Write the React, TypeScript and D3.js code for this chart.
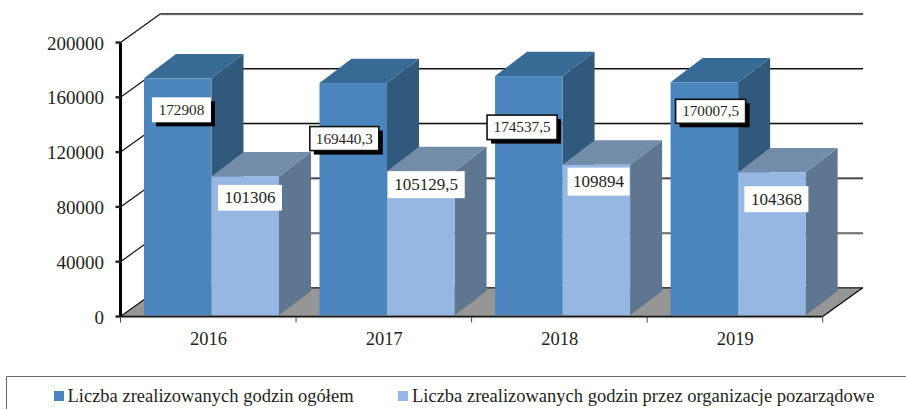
import React from "react";
import * as d3 from "d3";

const categories = ["2016", "2017", "2018", "2019"];
const totalHours = [172908, 169440.3, 174537.5, 170007.5];
const ngoHours = [101306, 105129.5, 109894, 104368];
const totalLabels = ["172908", "169440,3", "174537,5", "170007,5"];
const ngoLabels = ["101306", "105129,5", "109894", "104368"];
const yTicks = [0, 40000, 80000, 120000, 160000, 200000];
const seriesNames = [
  "Liczba zrealizowanych godzin ogółem",
  "Liczba zrealizowanych godzin przez organizacje pozarządowe",
];

// label box placement, relative to the front top-left corner of the bar: dx, dy, w, h, framed
const totalBoxes = [
  [8, 19, 59, 25, false],
  [-9.7, 43.5, 69, 24, true],
  [-8, 39, 70, 24.5, true],
  [5, 17, 70, 24, true],
] as const;
const ngoBoxes = [
  [6.5, 8.5, 64, 25.7],
  [0.7, 0, 77, 27],
  [5, 3, 62, 28],
  [6.3, 14, 64, 26],
] as const;

const FONT = "'Liberation Serif', serif";
const TXT = "#231f20";
const DX = 40;
const DY = 28.7;
const BAR_DX = 32;
const BAR_DY = 24.3;

const left = 120.5;
const right = 822.7;
const y = d3.scaleLinear().domain([0, 200000]).range([316.5, 42.5]);
const barY = d3.scaleLinear().domain([0, 200000]).range([315.2, 41.2]);
const x0 = d3.scaleBand<string>().domain(categories).range([left, right]);
const seriesBand = d3
  .scaleBand<number>()
  .domain([0, 1])
  .range([0, x0.bandwidth()])
  .paddingInner(0)
  .paddingOuter(0.3);
const barShift = 3.2;

const poly = (pts: number[][]) => d3.line()(pts as [number, number][]) + "Z";

function Bar({ x, w, v, front, top, side }: { x: number; w: number; v: number; front: string; top: string; side: string }) {
  const y1 = barY(v);
  const y0 = barY(0);
  return (
    <g>
      <path d={poly([[x + w, y1], [x + w + BAR_DX, y1 - BAR_DY], [x + w + BAR_DX, y0 - BAR_DY], [x + w, y0]])} fill={side} />
      <path d={poly([[x, y1], [x + BAR_DX, y1 - BAR_DY], [x + w + BAR_DX, y1 - BAR_DY], [x + w, y1]])} fill={top} />
      <rect x={x} y={y1} width={w} height={y0 - y1} fill={front} />
    </g>
  );
}

function Label({ x, y: yy, w, h, text, shadow, framed, size }: { x: number; y: number; w: number; h: number; text: string; shadow: boolean; framed: boolean; size: number }) {
  return (
    <g>
      {shadow && <rect x={x + 4} y={yy + 4} width={w} height={h} fill="#000" />}
      <rect x={x} y={yy} width={w} height={h} fill="#fff" stroke={framed ? "#111" : "none"} strokeWidth={framed ? 1.6 : 0} />
      <text x={x + w / 2} y={yy + h / 2 + size * 0.33} textAnchor="middle" fontFamily={FONT} fontSize={size} fill={TXT}>
        {text}
      </text>
    </g>
  );
}

export default function App() {
  const gridTicks = yTicks;
  return (
    <svg width={906} height={409} style={{ position: "absolute", left: 0, top: 0, background: "#fff" }}>
      {/* floor */}
      <path
        d={poly([[left, y(0)], [left + DX, y(0) - DY], [right + DX, y(0) - DY], [right, y(0)]])}
        fill="#969696"
      />
      {/* back wall gridlines and side wall diagonals */}
      {gridTicks.map((t) => (
        <g key={t}>
          <line x1={left + DX} x2={right + DX + 0.3} y1={y(t) - DY} y2={y(t) - DY} stroke="#aaa" strokeWidth={1} transform="translate(0,1)" />
          <line x1={left + DX} x2={right + DX + 0.3} y1={y(t) - DY} y2={y(t) - DY} stroke="#111" strokeWidth={1.2} />
          <line x1={left} x2={left + DX} y1={y(t)} y2={y(t) - DY} stroke="#111" strokeWidth={1.2} />
        </g>
      ))}
      <line x1={right} x2={right + DX} y1={y(0)} y2={y(0) - DY} stroke="#111" strokeWidth={1.4} />

      {/* bars */}
      {categories.map((c, i) => {
        const bx = (x0(c) as number) + barShift;
        const w = seriesBand.bandwidth();
        return (
          <g key={c}>
            <Bar x={bx + (seriesBand(0) as number)} w={w} v={totalHours[i]} front="#4a86bd" top="#376a94" side="#30597b" />
            <Bar x={bx + (seriesBand(1) as number)} w={w} v={ngoHours[i]} front="#95b7e1" top="#728ca9" side="#5f7690" />
          </g>
        );
      })}

      {/* axes */}
      <line x1={left} x2={right} y1={y(0) + 1.2} y2={y(0) + 1.2} stroke="#aaa" strokeWidth={1} />
      <line x1={left} x2={right} y1={y(0)} y2={y(0)} stroke="#111" strokeWidth={1.6} />
      <line x1={left} x2={left} y1={y(200000)} y2={y(0)} stroke="#000" strokeWidth={3} />
      {yTicks.map((t) => (
        <g key={t}>
          <line x1={115.5} x2={left} y1={y(t)} y2={y(t)} stroke="#222" strokeWidth={2.4} />
          <text x={104} y={y(t) + 7} textAnchor="end" fontFamily={FONT} fontSize={19} fill={TXT}>
            {d3.format("d")(t)}
          </text>
        </g>
      ))}
      {[...categories.map((c) => x0(c) as number), right].map((tx) => (
        <line key={tx} x1={tx} x2={tx} y1={y(0)} y2={y(0) + 6} stroke="#444" strokeWidth={1} />
      ))}
      {categories.map((c) => (
        <text key={c} x={(x0(c) as number) + x0.bandwidth() / 2 + 0.3} y={344.5} textAnchor="middle" fontFamily={FONT} fontSize={18.5} fill={TXT}>
          {c}
        </text>
      ))}

      {/* value labels */}
      {categories.map((c, i) => {
        const bx = (x0(c) as number) + barShift;
        const a = totalBoxes[i];
        const b = ngoBoxes[i];
        return (
          <g key={c}>
            <Label x={bx + (seriesBand(0) as number) + a[0]} y={barY(totalHours[i]) + a[1]} w={a[2]} h={a[3]} text={totalLabels[i]} shadow framed={a[4]} size={15.2} />
            <Label x={bx + (seriesBand(1) as number) + b[0]} y={barY(ngoHours[i]) + b[1]} w={b[2]} h={b[3]} text={ngoLabels[i]} shadow={false} framed={false} size={17} />
          </g>
        );
      })}

      {/* legend */}
      <path d="M6.5,409V376.5H906" fill="none" stroke="#6b6b6b" strokeWidth={1} />
      <rect x={54} y={391} width={10} height={10} fill="#4a86bd" />
      <text x={67.5} y={402} fontFamily={FONT} fontSize={18.5} fill={TXT}>{seriesNames[0]}</text>
      <rect x={398} y={391} width={10} height={10} fill="#95b7e1" />
      <text x={412} y={402} fontFamily={FONT} fontSize={18.5} fill={TXT}>{seriesNames[1]}</text>
    </svg>
  );
}
